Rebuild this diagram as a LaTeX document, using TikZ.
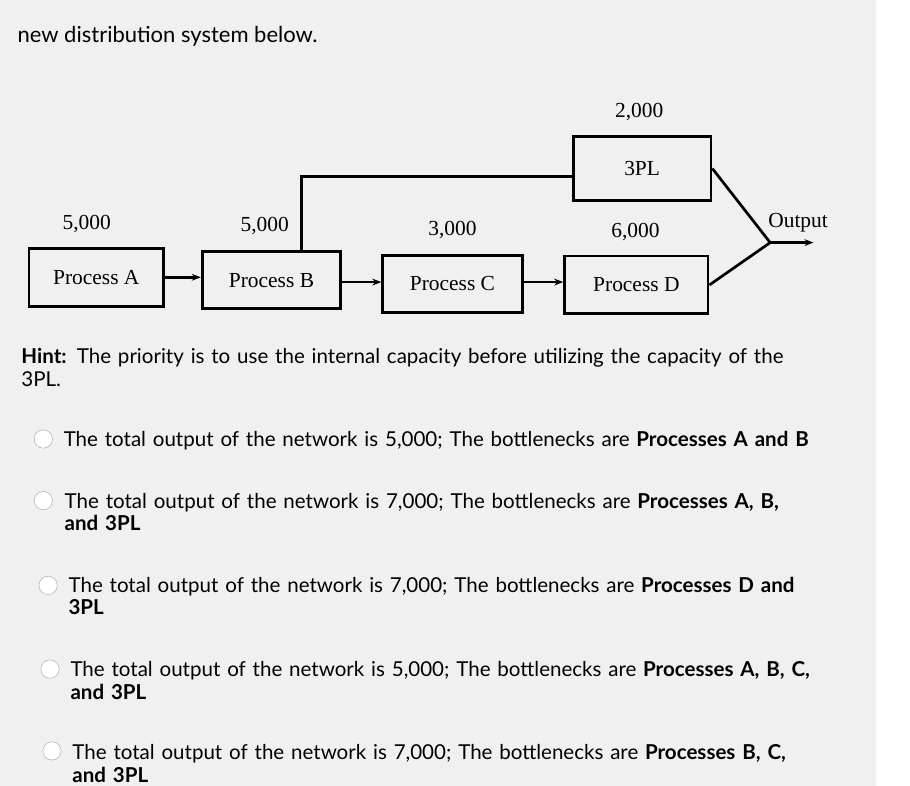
\documentclass[tikz,border=0pt]{standalone}
\usepackage{fontspec}
\setmainfont{Lato}
\newfontfamily\serifd{Liberation Serif}
\usetikzlibrary{arrows.meta}
\begin{document}
\begin{tikzpicture}[x=0.03cm,y=-0.03cm,
  pbox/.style={draw,line width=2.4pt,minimum width=#1*0.03cm,inner sep=0pt,font=\serifd\fontsize{19}{21}\selectfont},
  num/.style={font=\serifd\fontsize{19}{21}\selectfont},
  ln/.style={line width=2.4pt},
  arr/.style={ln,-{Stealth[length=8pt]}},
  txt/.style={anchor=west,align=left,font=\fontsize{18.2}{20}\selectfont,text width=870*0.03cm,inner sep=0pt},
  radio/.style={circle,draw=gray!70,fill=white,minimum size=19*0.03cm,inner sep=0pt}]
\fill[gray!12] (0,0) rectangle (910,816);
\node[anchor=west,font=\fontsize{19.5}{21}\selectfont,inner sep=0pt] (t) at (18,38) {new distribution system below.};
\node[pbox=140,minimum height=60*0.03cm] (A) at (100,288) {Process A};
\node[pbox=144,minimum height=59*0.03cm] (B) at (282,291) {Process B};
\node[pbox=145,minimum height=59*0.03cm] (C) at (470,295) {Process C};
\node[pbox=149,minimum height=60*0.03cm] (D) at (661,296) {Process D};
\node[pbox=143,minimum height=66*0.03cm] (P) at (667,175) {3PL};
\node[num] (nA) at (90,233) {5,000};
\node[num] (nB) at (275,235) {5,000};
\node[num] (nC) at (470,239) {3,000};
\node[num] (nD) at (660,241) {6,000};
\node[num] (nP) at (664,116) {2,000};
\node[num] (out) at (829,231) {Output};
\coordinate (j) at (800,252);
\coordinate (e) at (845,252);
\coordinate (bt) at (313,262);
\coordinate (bc) at (313,183);
\draw[arr] (A.east |- 0,288) -- (B.west |- 0,288);
\draw[arr] (B.east |- 0,293) -- (C.west |- 0,293);
\draw[arr] (C.east |- 0,293) -- (D.west |- 0,293);
\draw[ln] (bt) -- (bc) -- (P.west |- bc);
\draw[ln] (P.east) -- (j) -- (D.east);
\draw[arr] (j) -- (e);
\node[txt,anchor=north west] (h) at (22,362) {\textbf{Hint:} The priority is to use the internal capacity before utilizing the capacity of the\\3PL.};
\node[radio] (r1) at (45,456) {};
\node[txt,anchor=north west] (o1) at (66,448) {The total output of the network is 5,000; The bottlenecks are \textbf{Processes A and B}};
\node[radio] (r2) at (45,520) {};
\node[txt,anchor=north west] (o2) at (67,512) {The total output of the network is 7,000; The bottlenecks are \textbf{Processes A, B,}\\\textbf{and 3PL}};
\node[radio] (r3) at (50,608) {};
\node[txt,anchor=north west] (o3) at (71,599) {The total output of the network is 7,000; The bottlenecks are \textbf{Processes D and}\\\textbf{3PL}};
\node[radio] (r4) at (52,695) {};
\node[txt,anchor=north west] (o4) at (73,687) {The total output of the network is 5,000; The bottlenecks are \textbf{Processes A, B, C,}\\\textbf{and 3PL}};
\node[radio] (r5) at (54,780) {};
\node[txt,anchor=north west] (o5) at (75,773) {The total output of the network is 7,000; The bottlenecks are \textbf{Processes B, C,}\\\textbf{and 3PL}};
\end{tikzpicture}
\end{document}
